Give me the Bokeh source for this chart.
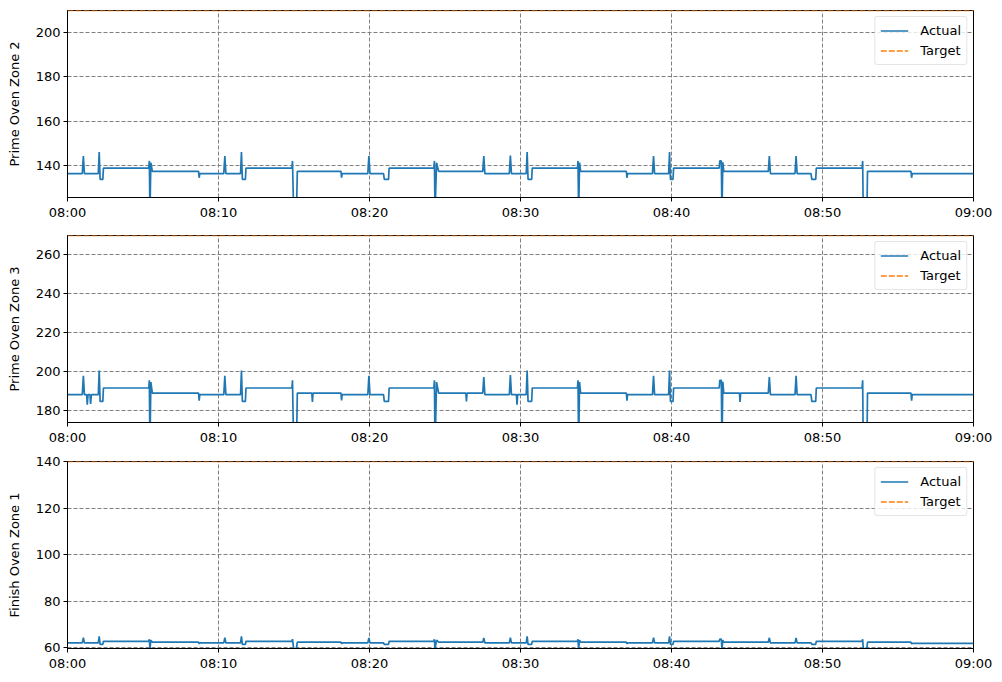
from bokeh.plotting import figure
from bokeh.models import Range1d, FixedTicker
from bokeh.layouts import column
from bokeh.embed import file_html
from bokeh.resources import INLINE

# time in minutes after 08:00
TIME_MIN = [
    0.00, 0.98, 1.05, 1.12, 1.27, 1.31, 1.36, 1.49, 1.53, 1.58,
    2.04, 2.10, 2.16, 2.34, 2.38, 5.38, 5.42, 5.46, 5.52, 5.62,
    8.68, 8.72, 8.76, 10.35, 10.42, 10.49, 11.46, 11.52, 11.58, 11.78,
    11.82, 14.86, 14.90, 14.98, 15.16, 15.22, 16.18, 16.22, 16.26, 18.11,
    18.15, 18.19, 19.89, 19.96, 20.03, 20.93, 20.98, 21.26, 21.30, 24.26,
    24.30, 24.34, 24.44, 24.58, 26.38, 26.42, 26.46, 27.50, 27.57, 27.64,
    29.26, 29.33, 29.40, 29.73, 29.77, 29.81, 30.38, 30.44, 30.50, 30.74,
    30.78, 33.77, 33.81, 33.85, 33.91, 33.98, 37.01, 37.05, 37.09, 38.74,
    38.81, 38.88, 39.81, 39.87, 39.93, 40.10, 40.14, 43.16, 43.20, 43.30,
    43.34, 43.40, 43.46, 44.50, 44.54, 44.58, 46.41, 46.48, 46.55, 48.18,
    48.25, 48.32, 49.24, 49.29, 49.55, 49.59, 52.62, 52.66, 52.70, 52.94,
    52.98, 55.86, 55.90, 55.94, 60.00,
]

ZONE2 = [
    136.4, 136.4, 144.3, 136.4, 136.4, 136.4, 136.4, 136.4, 136.4, 136.4,
    136.4, 146.1, 133.8, 133.8, 138.9, 138.9, 142.1, 118.0, 141.3, 137.4,
    137.4, 134.5, 136.4, 136.4, 144.3, 136.4, 136.4, 146.1, 133.8, 133.8,
    138.9, 138.9, 142.1, 118.0, 118.0, 137.4, 137.4, 137.4, 137.4, 137.4,
    134.6, 136.4, 136.4, 144.3, 136.4, 136.4, 133.8, 133.8, 138.9, 138.9,
    142.1, 118.0, 141.3, 137.4, 137.4, 137.4, 137.4, 137.4, 144.3, 136.4,
    136.4, 144.5, 136.4, 136.4, 136.4, 136.4, 136.4, 146.1, 133.8, 133.8,
    138.9, 138.9, 142.1, 118.0, 141.3, 137.4, 137.4, 134.5, 136.4, 136.4,
    144.3, 136.4, 136.4, 146.1, 133.8, 133.8, 138.9, 138.9, 142.1, 142.1,
    118.0, 141.5, 137.4, 137.4, 137.4, 137.4, 137.4, 144.3, 136.4, 136.4,
    144.3, 136.4, 136.4, 133.8, 133.8, 138.9, 138.9, 142.1, 118.0, 118.0,
    137.4, 137.4, 134.5, 136.4, 136.4,
]

ZONE3 = [
    188.4, 188.4, 198.1, 188.4, 188.4, 183.2, 188.4, 188.4, 183.6, 188.4,
    188.4, 200.7, 184.9, 184.9, 191.8, 191.8, 195.7, 160.0, 194.8, 189.2,
    189.2, 185.3, 188.4, 188.4, 198.1, 188.4, 188.4, 200.7, 184.9, 184.9,
    191.8, 191.8, 195.7, 160.0, 160.0, 189.2, 189.2, 184.6, 189.2, 189.2,
    185.4, 188.4, 188.4, 198.1, 188.4, 188.4, 184.9, 184.9, 191.8, 191.8,
    195.7, 160.0, 194.8, 189.2, 189.2, 184.9, 189.2, 189.2, 197.4, 188.4,
    188.4, 198.4, 188.4, 188.4, 183.2, 188.4, 188.4, 200.7, 184.9, 184.9,
    191.8, 191.8, 195.7, 160.0, 194.8, 189.2, 189.2, 185.3, 188.4, 188.4,
    198.1, 188.4, 188.4, 200.7, 184.9, 184.9, 191.8, 191.8, 195.7, 195.7,
    160.0, 195.0, 189.2, 189.2, 184.6, 189.2, 189.2, 197.4, 188.4, 188.4,
    198.1, 188.4, 188.4, 184.9, 184.9, 191.8, 191.8, 195.7, 160.0, 160.0,
    189.2, 189.2, 185.3, 188.4, 188.4,
]

FINISH1 = [
    62.0, 62.0, 64.3, 62.0, 62.0, 62.0, 62.0, 62.0, 62.0, 62.0,
    62.0, 64.8, 61.4, 61.4, 62.7, 62.7, 63.6, 59.4, 63.2, 62.3,
    62.3, 61.6, 62.0, 62.0, 64.3, 62.0, 62.0, 64.8, 61.4, 61.4,
    62.7, 62.7, 63.6, 59.4, 59.4, 62.3, 62.3, 62.3, 62.3, 62.3,
    61.6, 62.0, 62.0, 64.2, 62.0, 62.0, 61.4, 61.4, 62.7, 62.7,
    63.6, 59.4, 63.2, 62.3, 62.3, 62.3, 62.3, 62.3, 64.1, 62.0,
    62.0, 64.3, 62.0, 62.0, 62.0, 62.0, 62.0, 64.8, 61.4, 61.4,
    62.7, 62.7, 63.6, 59.4, 63.2, 62.3, 62.3, 61.6, 62.0, 62.0,
    64.3, 62.0, 62.0, 64.8, 61.4, 61.4, 62.7, 62.7, 63.6, 63.6,
    59.4, 63.2, 62.3, 62.3, 62.3, 62.3, 62.3, 64.2, 62.0, 62.0,
    64.2, 62.0, 62.0, 61.4, 61.4, 62.7, 62.7, 63.6, 59.6, 59.6,
    62.3, 62.3, 61.6, 61.8, 61.8,
]

SERIES = [ZONE2, ZONE3, FINISH1]
TARGETS = [210, 270, 140]
Y_LABELS = ["Prime Oven Zone 2", "Prime Oven Zone 3", "Finish Oven Zone 1"]
X_TICKS = [0, 10, 20, 30, 40, 50, 60]
X_TICK_LABELS = ["08:00", "08:10", "08:20", "08:30", "08:40", "08:50", "09:00"]
Y_TICKS = [[140, 160, 180, 200], [180, 200, 220, 240, 260], [60, 80, 100, 120, 140]]
Y_LIMITS = [(125.6, 210), (174.1, 270), (59.6, 140)]

FONT = "DejaVu Sans"
BLUE = "#1f77b4"
ORANGE = "#ff7f0e"

# (top border, bottom border) per panel
BORDERS = [(10, 36), (2, 29), (10, 24)]

figs = []
for i in range(3):
    top, bottom = BORDERS[i]
    p = figure(frame_width=906, frame_height=187,
               min_border_left=67, min_border_right=28,
               min_border_top=top, min_border_bottom=bottom,
               x_range=Range1d(TIME_MIN[0], TIME_MIN[-1]),
               y_range=Range1d(*Y_LIMITS[i]),
               output_backend="svg", toolbar_location=None, title=None)
    p.background_fill_color = "white"
    p.border_fill_color = "white"
    p.outline_line_color = "black"
    p.outline_line_width = 1

    p.line(TIME_MIN, SERIES[i], color=BLUE, line_width=1.7, legend_label="Actual")
    p.line([TIME_MIN[0], TIME_MIN[-1]], [TARGETS[i], TARGETS[i]], color=ORANGE,
           line_width=1.5, line_dash="6 2", legend_label="Target")

    p.xaxis.ticker = FixedTicker(ticks=X_TICKS)
    p.xaxis.major_label_overrides = {t: l for t, l in zip(X_TICKS, X_TICK_LABELS)}
    p.yaxis.ticker = FixedTicker(ticks=Y_TICKS[i])
    p.yaxis.axis_label = Y_LABELS[i]

    for ax in (p.xaxis, p.yaxis):
        ax.axis_line_color = "black"
        ax.axis_line_width = 1
        ax.major_tick_line_color = "black"
        ax.major_tick_out = 4
        ax.major_tick_in = 0
        ax.minor_tick_line_color = None
        ax.major_label_text_font = FONT
        ax.major_label_text_font_size = "13px"
        ax.major_label_text_color = "black"
        ax.major_label_standoff = 3
        ax.axis_label_text_font = FONT
        ax.axis_label_text_font_size = "13px"
        ax.axis_label_text_font_style = "normal"
        ax.axis_label_text_color = "black"
    p.yaxis.axis_label_standoff = 11

    for g in (p.xgrid, p.ygrid):
        g.grid_line_color = "gray"
        g.grid_line_width = 1
        g.grid_line_dash = "4 2"

    lg = p.legend[0]
    lg.location = "top_right"
    lg.margin = 6
    lg.padding = 5
    lg.spacing = 3
    lg.glyph_width = 28
    lg.glyph_height = 17
    lg.label_height = 17
    lg.label_standoff = 12
    lg.label_text_font = FONT
    lg.label_text_font_size = "13px"
    lg.label_text_color = "black"
    lg.background_fill_color = "white"
    lg.background_fill_alpha = 0.8
    lg.border_line_color = "#cccccc"
    lg.border_line_width = 1
    try:
        lg.border_radius = 3
    except Exception:
        pass
    figs.append(p)

layout = column(*figs)
open("out.html", "w").write(file_html(layout, INLINE))
